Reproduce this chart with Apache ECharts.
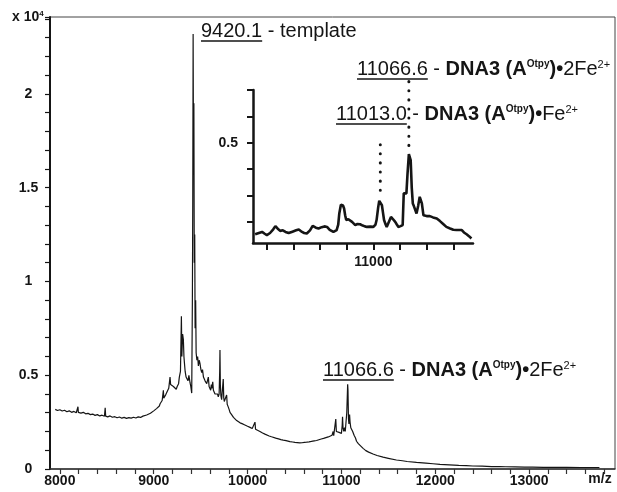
<!DOCTYPE html>
<html>
<head>
<meta charset="utf-8">
<script src="https://cdn.jsdelivr.net/npm/echarts@6/dist/echarts.min.js"></script>
<style>
  html, body { margin: 0; padding: 0; background: #fff; }
  #chart { width: 617px; height: 492px; }
</style>
</head>
<body>
<div id="chart"></div>
<script>
// full spectrum, intensity in units of 10^4
const mainMz = [
  7951, 7975, 8000, 8025, 8050, 8075, 8100, 8125, 8150, 8175, 8190, 8193, 8197, 8225, 8250, 8275,
  8300, 8325, 8350, 8375, 8400, 8425, 8450, 8475, 8483, 8488, 8510, 8535, 8560, 8585, 8610, 8635,
  8660, 8685, 8710, 8735, 8760, 8785, 8810, 8835, 8860, 8885, 8905, 8925, 8945, 8965, 8985, 9000,
  9015, 9030, 9045, 9060, 9068, 9080, 9090, 9100, 9103, 9107, 9120, 9130, 9139, 9150, 9160, 9170,
  9174, 9180, 9195, 9210, 9225, 9240, 9250, 9265, 9273, 9285, 9295, 9300, 9308, 9316, 9322, 9327,
  9335, 9345, 9352, 9365, 9375, 9387, 9395, 9405, 9412, 9416, 9420, 9424, 9428, 9432, 9437, 9441,
  9447, 9452, 9460, 9468, 9476, 9485, 9494, 9503, 9512, 9520, 9530, 9540, 9547, 9556, 9565, 9573,
  9582, 9590, 9600, 9607, 9614, 9620, 9629, 9636, 9645, 9653, 9662, 9670, 9680, 9688, 9697, 9703,
  9706, 9710, 9716, 9724, 9732, 9741, 9746, 9752, 9760, 9768, 9777, 9783, 9795, 9805, 9813, 9830,
  9850, 9868, 9884, 9900, 9920, 9940, 9954, 9975, 10000, 10026, 10050, 10070, 10079, 10085, 10105, 10132,
  10160, 10185, 10203, 10230, 10255, 10273, 10300, 10330, 10355, 10380, 10410, 10430, 10451, 10480, 10505, 10530,
  10557, 10580, 10605, 10629, 10655, 10680, 10710, 10735, 10760, 10785, 10810, 10835, 10860, 10880, 10900, 10912,
  10918, 10930, 10940, 10946, 10955, 10965, 10975, 10990, 11000, 11008, 11012, 11017, 11025, 11033, 11041, 11050,
  11057, 11061, 11066.6, 11070, 11075, 11080, 11087, 11092, 11100, 11107, 11120, 11135, 11150, 11161, 11180, 11200,
  11231, 11260, 11290, 11337, 11380, 11444, 11500, 11586, 11650, 11700, 11800, 11900, 11976, 12050, 12150, 12250,
  12331, 12400, 12500, 12600, 12685, 12750, 12850, 12950, 13039, 13150, 13250, 13400, 13550, 13650, 13749
];
const mainIntensity = [
  0.318, 0.312, 0.316, 0.309, 0.313, 0.305, 0.31, 0.302, 0.307, 0.3, 0.305, 0.332, 0.302, 0.298, 0.302, 0.294,
  0.297, 0.29, 0.293, 0.286, 0.29, 0.283, 0.287, 0.281, 0.326, 0.282, 0.278, 0.283, 0.276, 0.279, 0.273, 0.277,
  0.271, 0.275, 0.27, 0.274, 0.271, 0.276, 0.272, 0.278, 0.275, 0.282, 0.279, 0.288, 0.286, 0.297, 0.3, 0.31,
  0.308, 0.322, 0.33, 0.336, 0.348, 0.35, 0.365, 0.372, 0.42, 0.378, 0.385, 0.398, 0.39, 0.405, 0.43, 0.44,
  0.49, 0.45, 0.445, 0.44, 0.43, 0.425, 0.44, 0.455, 0.49, 0.52, 0.815, 0.6, 0.72, 0.69, 0.6, 0.567,
  0.52, 0.49, 0.48, 0.47, 0.5, 0.46, 0.44, 0.405, 0.9, 1.4, 2.32, 1.6, 1.95, 1.1, 1.25, 0.75,
  0.9, 0.62, 0.58, 0.6, 0.55, 0.58, 0.56, 0.53, 0.514, 0.53, 0.49, 0.5, 0.47, 0.48, 0.455, 0.46,
  0.49, 0.44, 0.43, 0.42, 0.45, 0.43, 0.465, 0.42, 0.41, 0.4, 0.41, 0.395, 0.4, 0.385, 0.4, 0.52,
  0.635, 0.45, 0.39, 0.37, 0.38, 0.48, 0.38, 0.36, 0.355, 0.36, 0.395, 0.345, 0.33, 0.315, 0.302, 0.29,
  0.275, 0.268, 0.258, 0.252, 0.246, 0.24, 0.239, 0.232, 0.228, 0.222, 0.216, 0.214, 0.25, 0.212, 0.205, 0.2,
  0.192, 0.186, 0.18, 0.176, 0.172, 0.17, 0.165, 0.161, 0.157, 0.154, 0.151, 0.148, 0.146, 0.144, 0.142, 0.141,
  0.139, 0.14, 0.142, 0.143, 0.145, 0.147, 0.15, 0.152, 0.156, 0.16, 0.163, 0.167, 0.171, 0.175, 0.18, 0.2,
  0.178, 0.185, 0.266, 0.2, 0.205, 0.2, 0.195, 0.19, 0.19, 0.23, 0.278, 0.22, 0.2, 0.22, 0.2, 0.205,
  0.3, 0.31, 0.452, 0.42, 0.27, 0.24, 0.29, 0.25, 0.22, 0.215, 0.2, 0.18, 0.165, 0.148, 0.135, 0.125,
  0.11, 0.098, 0.09, 0.08, 0.072, 0.063, 0.057, 0.048, 0.044, 0.04, 0.035, 0.031, 0.028, 0.025, 0.022, 0.019,
  0.018, 0.016, 0.015, 0.013, 0.013, 0.012, 0.011, 0.01, 0.01, 0.009, 0.009, 0.009, 0.008, 0.008, 0.008
];

// zoomed region shown in the inset
const zoomMz = [
  10778, 10785, 10791, 10796, 10800, 10806, 10812, 10816, 10820, 10825, 10830, 10835, 10841, 10848, 10855, 10860,
  10866, 10870, 10875, 10881, 10886, 10888, 10892, 10897, 10903, 10908, 10913, 10918, 10925, 10931, 10934, 10936,
  10939, 10941, 10943, 10945, 10947, 10949, 10953, 10956, 10960, 10966, 10970, 10975, 10980, 10984, 10988, 10994,
  11000, 11004, 11006, 11009, 11011, 11013, 11016, 11018, 11020, 11023, 11025, 11029, 11033, 11037, 11041, 11044,
  11047, 11051, 11055, 11056, 11057, 11060, 11062, 11064, 11066.6, 11068, 11070, 11072, 11074, 11076, 11078, 11081,
  11084, 11087, 11089, 11091, 11094, 11100, 11106, 11112, 11119, 11125, 11131, 11137, 11144, 11150, 11156, 11162,
  11166, 11170, 11175, 11180, 11184
];
const zoomIntensity = [
  0.153, 0.158, 0.162, 0.155, 0.15, 0.158, 0.172, 0.184, 0.175, 0.166, 0.168, 0.162, 0.158, 0.163, 0.168, 0.171,
  0.162, 0.158, 0.156, 0.168, 0.185, 0.188, 0.178, 0.175, 0.18, 0.183, 0.181, 0.17, 0.162, 0.169, 0.19, 0.232,
  0.265, 0.27, 0.262, 0.251, 0.225, 0.207, 0.21, 0.209, 0.2, 0.188, 0.192, 0.191, 0.186, 0.183, 0.181, 0.182,
  0.181, 0.19, 0.207, 0.255, 0.28, 0.283, 0.263, 0.235, 0.207, 0.19, 0.181, 0.2, 0.219, 0.21, 0.2, 0.19,
  0.181, 0.184, 0.188, 0.25, 0.308, 0.31, 0.308, 0.38, 0.457, 0.45, 0.434, 0.33, 0.27, 0.26, 0.257, 0.232,
  0.26, 0.295, 0.29, 0.27, 0.225, 0.222, 0.222, 0.217, 0.213, 0.203, 0.192, 0.181, 0.175, 0.17, 0.169, 0.169,
  0.169, 0.16, 0.153, 0.145, 0.137
];

const mainXTicks = [8000, 8200, 8400, 8600, 8800, 9000, 9200, 9400, 9600, 9800, 10000, 10200, 10400, 10600, 10800,
  11000, 11200, 11400, 11600, 11800, 12000, 12200, 12400, 12600, 12800, 13000, 13200, 13400, 13600, 13800];
const mainXLabels = [8000, 9000, 10000, 11000, 12000, 13000];
const mainYLabels = [0, 0.5, 1, 1.5, 2];
const insetXTicks = [10800, 10850, 10900, 10950, 11000, 11050, 11100, 11150];
const insetXLabels = [11000];
const insetYTicks = [0.2, 0.3, 0.4, 0.5, 0.6, 0.7];
const insetYLabels = [0.5];

const peakFe1 = 11013.0;
const peakFe2 = 11066.6;
// dotted guide spans in inset intensity units
const guideFe1 = [0.32, 0.52];
const guideFe2 = [0.49, 0.74];

const FONT = '"Liberation Sans", Arial, sans-serif';
const INK = '#151515';

const toPairs = (xs, ys) => xs.map((x, i) => [x, ys[i]]);
const plain = v => String(v);

const measure = (() => {
  const ctx = document.createElement('canvas').getContext('2d');
  return (txt, size, weight) => {
    ctx.font = (weight || 'normal') + ' ' + size + 'px ' + FONT;
    return ctx.measureText(txt).width;
  };
})();

const richStyles = {
  b: { fontSize: 20, fontWeight: 'bold', fontFamily: FONT, fill: INK },
  bs: { fontSize: 10, fontWeight: 'bold', fontFamily: FONT, fill: INK, verticalAlign: 'top' },
  s: { fontSize: 11, fontFamily: FONT, fill: INK, verticalAlign: 'top' }
};

// underlined mass + description
function annotation(x, y, num, rest) {
  const w = measure(num, 20);
  return [
    {
      type: 'text', x: x, y: y,
      style: {
        text: num + rest, fontSize: 20, fontFamily: FONT, fill: INK,
        verticalAlign: 'middle', rich: richStyles
      }
    },
    {
      type: 'line',
      shape: { x1: x, y1: y + 10, x2: x + w, y2: y + 10 },
      style: { stroke: INK, lineWidth: 1.5 }
    }
  ];
}

const chem2 = ' - {b|DNA3 (A}{bs|Otpy}{b|)•}2Fe{s|2+}';
const chem1 = ' - {b|DNA3 (A}{bs|Otpy}{b|)•}Fe{s|2+}';

const graphics = [].concat(
  annotation(201, 31, '9420.1', ' - template'),
  annotation(357, 69, '11066.6', chem2),
  annotation(336, 114, '11013.0', chem1),
  annotation(323, 370, '11066.6', chem2),
  [
    {
      type: 'text', x: 12, y: 17,
      style: {
        text: 'x 10{e|4}', fontSize: 14, fontWeight: 'bold', fontFamily: FONT, fill: INK,
        verticalAlign: 'middle',
        rich: { e: { fontSize: 8, fontWeight: 'bold', fontFamily: FONT, fill: INK, verticalAlign: 'top' } }
      }
    },
    {
      type: 'text', x: 600, y: 479,
      style: {
        text: 'm/z', fontSize: 14, fontWeight: 'bold', fontFamily: FONT, fill: INK,
        align: 'center', verticalAlign: 'middle'
      }
    }
  ]
);

const chart = echarts.init(document.getElementById('chart'));

const labelStyle = { color: INK, fontSize: 14, fontWeight: 'bold', fontFamily: FONT, formatter: plain };

const option = {
  animation: false,
  backgroundColor: '#fff',
  grid: [
    { left: 50, top: 17, right: 2, bottom: 23, show: true, borderColor: '#444', borderWidth: 1 },
    { left: 253, top: 90, width: 220, height: 153 }
  ],
  xAxis: [
    {
      type: 'value', gridIndex: 0, min: 7895, max: 13915,
      axisLine: { onZero: false, lineStyle: { color: '#333', width: 1.5 } },
      axisTick: { customValues: mainXTicks, length: 5, lineStyle: { color: '#333', width: 1.2 } },
      axisLabel: Object.assign({ customValues: mainXLabels, margin: 5 }, labelStyle),
      splitLine: { show: false }
    },
    {
      type: 'value', gridIndex: 1, min: 10774, max: 11187,
      axisLine: { onZero: false, lineStyle: { color: INK, width: 2.5 } },
      axisTick: { customValues: insetXTicks, length: 7, lineStyle: { color: INK, width: 2 } },
      axisLabel: Object.assign({ customValues: insetXLabels, margin: 12 }, labelStyle),
      splitLine: { show: false }
    }
  ],
  yAxis: [
    {
      type: 'value', gridIndex: 0, min: 0, max: 2.41, interval: 0.1,
      axisLine: { show: true, lineStyle: { color: INK, width: 2 } },
      axisTick: { show: true, length: 5, lineStyle: { color: INK, width: 1.2 } },
      axisLabel: Object.assign({ customValues: mainYLabels, margin: 21.5, align: 'center' }, labelStyle),
      splitLine: { show: false }
    },
    {
      type: 'value', gridIndex: 1, min: 0.12, max: 0.7,
      axisLine: { show: true, onZero: false, lineStyle: { color: INK, width: 2.5 } },
      axisTick: { show: true, customValues: insetYTicks, length: 6, lineStyle: { color: INK, width: 2 } },
      axisLabel: Object.assign({ customValues: insetYLabels, margin: 15 }, labelStyle),
      splitLine: { show: false }
    }
  ],
  series: [
    {
      type: 'line', xAxisIndex: 0, yAxisIndex: 0,
      data: toPairs(mainMz, mainIntensity),
      showSymbol: false, silent: true,
      lineStyle: { color: INK, width: 1.2 }
    },
    {
      type: 'line', xAxisIndex: 1, yAxisIndex: 1,
      data: toPairs(zoomMz, zoomIntensity),
      showSymbol: false, silent: true,
      lineStyle: { color: INK, width: 2.6 }
    }
  ],
  graphic: graphics
};

chart.setOption(option);

// dotted guides from inset peaks up to their labels, placed through the inset scales
function dottedGuide(mz, span) {
  const a = chart.convertToPixel({ xAxisIndex: 1, yAxisIndex: 1 }, [mz, span[0]]);
  const b = chart.convertToPixel({ xAxisIndex: 1, yAxisIndex: 1 }, [mz, span[1]]);
  return {
    type: 'line',
    shape: { x1: a[0], y1: a[1], x2: b[0], y2: b[1] },
    style: { stroke: INK, lineWidth: 3, lineDash: [0.1, 9], lineCap: 'round' }
  };
}

chart.setOption({
  graphic: graphics.concat([dottedGuide(peakFe1, guideFe1), dottedGuide(peakFe2, guideFe2)])
});
</script>
</body>
</html>
